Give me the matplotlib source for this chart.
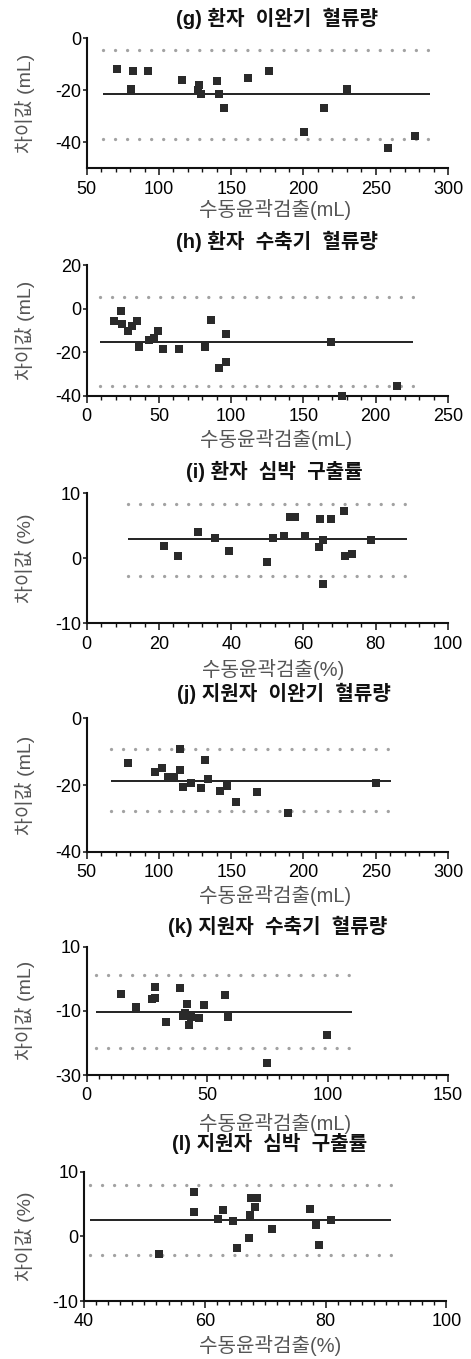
import matplotlib
matplotlib.use("Agg")
import matplotlib.pyplot as plt
from matplotlib.ticker import MultipleLocator

FONT = ["Liberation Sans", "Noto Sans CJK KR", "DejaVu Sans"]
plt.rcParams["font.family"] = FONT

W, H = 471, 1359

# ---- data ------------------------------------------------------------------
titles = ["(g) 환자  이완기  혈류량", "(h) 환자  수축기  혈류량", "(i) 환자  심박  구출률",
          "(j) 지원자  이완기  혈류량", "(k) 지원자  수축기  혈류량", "(l) 지원자  심박  구출률"]
xlabels = ["수동윤곽검출(mL)", "수동윤곽검출(mL)", "수동윤곽검출(%)",
           "수동윤곽검출(mL)", "수동윤곽검출(mL)", "수동윤곽검출(%)"]
ylabels = ["차이값 (mL)", "차이값 (mL)", "차이값 (%)",
           "차이값 (mL)", "차이값 (mL)", "차이값 (%)"]

g_x = [70.8, 80.4, 82.3, 92.2, 115.7, 127.9, 126.8, 129.3, 140.4, 141.6,
       145.0, 161.6, 176.4, 200.2, 214.5, 229.9, 258.3, 277.2]
g_y = [-11.9, -19.6, -12.6, -12.6, -16.1, -17.8, -19.7, -21.3, -16.6, -21.3,
       -26.7, -15.2, -12.6, -36.1, -26.7, -19.4, -42.2, -37.4]

h_x = [18.9, 23.5, 24.2, 28.4, 31.1, 34.6, 36.4, 43.3, 46.6, 49.6,
       53.0, 64.1, 81.7, 86.3, 91.6, 96.2, 96.4, 169.1, 176.5, 214.5]
h_y = [-5.5, -0.9, -7.1, -10.2, -7.8, -5.5, -17.8, -14.3, -13.5, -10.5,
       -18.6, -18.6, -17.8, -5.1, -27.4, -24.3, -11.5, -15.5, -40.0, -35.4]

i_x = [21.5, 25.4, 30.8, 35.6, 39.4, 49.8, 51.5, 54.7, 56.3, 57.7,
       60.3, 64.4, 64.6, 65.3, 65.3, 67.7, 71.2, 71.5, 73.5, 78.6]
i_y = [1.9, 0.3, 4.0, 3.2, 1.1, -0.6, 3.2, 3.4, 6.4, 6.4,
       3.4, 1.8, 6.05, 2.8, -3.9, 6.05, 7.3, 0.4, 0.7, 2.8]

j_x = [78.8, 97.5, 101.9, 106.5, 110.4, 114.6, 114.6, 116.9, 122.0, 129.1,
       131.7, 133.9, 142.2, 146.9, 153.1, 167.6, 189.5, 250.2]
j_y = [-13.5, -16.0, -15.0, -17.5, -17.5, -15.5, -9.3, -20.5, -19.3, -20.8,
       -12.5, -18.2, -21.8, -20.3, -25.0, -22.0, -28.3, -19.3]

k_x = [14.2, 20.5, 27.0, 28.5, 28.5, 32.8, 38.7, 39.8, 40.9, 41.5,
       42.3, 43.2, 46.6, 48.6, 57.4, 58.7, 75.0, 99.8]
k_y = [-4.9, -8.7, -6.3, -5.9, -2.5, -13.5, -3.0, -11.6, -10.8, -8.0,
       -14.5, -11.8, -12.3, -8.2, -5.1, -11.8, -26.4, -17.4]

l_x = [52.4, 58.2, 58.2, 62.2, 63.0, 64.6, 65.4, 67.4, 67.5, 67.6,
       68.4, 68.6, 71.2, 77.5, 78.4, 79.0, 80.9]
l_y = [-2.7, 6.9, 3.7, 2.7, 4.0, 2.3, -1.75, -0.2, 3.25, 6.0,
       4.5, 5.9, 1.2, 4.3, 1.7, -1.4, 2.5]

xs = [g_x, h_x, i_x, j_x, k_x, l_x]
ys = [g_y, h_y, i_y, j_y, k_y, l_y]

# bias line, limits of agreement and the x-span they are drawn over
bias = [-21.3, -15.4, 2.9, -18.8, -10.3, 2.5]
loa_upper = [-4.5, 5.4, 8.3, -9.3, 1.3, 8.0]
loa_lower = [-38.7, -35.4, -2.8, -27.7, -21.5, -2.9]
line_start = [61.0, 9.0, 11.5, 67.0, 4.0, 41.0]
line_end = [287.5, 225.5, 88.7, 260.5, 110.0, 90.8]

xlims = [(50, 300), (0, 250), (0, 100), (50, 300), (0, 150), (40, 100)]
ylims = [(-50, 0), (-40, 20), (-10, 10), (-40, 0), (-30, 10), (-10, 10)]
xmajor = [50, 50, 20, 50, 50, 20]
xminor = [10, 10, 4, 10, 5, 2]
yticks = [[0, -20, -40], [20, 0, -20, -40], [10, 0, -10],
          [0, -20, -40], [10, -10, -30], [10, 0, -10]]

# ---- layout in pixels (left, right, top, bottom) ---------------------------
boxes = [(86.7, 448, 38.3, 168.3), (86.7, 448, 265, 395.7), (86.7, 448, 493.3, 623.3),
         (86.7, 448, 718.3, 851.7), (86.7, 448, 946.7, 1075), (84, 446.3, 1171.7, 1301)]
title_pos = [(277, 18), (277, 241.7), (274, 471.7), (284, 693), (277.5, 926.7), (270, 1143)]
xlabel_pos = [(275, 210), (276, 440), (273, 669), (275, 895), (275, 1123), (270, 1346)]

fig = plt.figure(figsize=(W / 100, H / 100), dpi=100)

for k in range(6):
    l, r, t, b = boxes[k]
    ax = fig.add_axes([l / W, 1 - b / H, (r - l) / W, (b - t) / H])
    ax.set_xlim(*xlims[k])
    ax.set_ylim(*ylims[k])
    for s in ("top", "right"):
        ax.spines[s].set_visible(False)
    for s in ("left", "bottom"):
        ax.spines[s].set_linewidth(1.5)
        ax.spines[s].set_color("#111111")

    ax.hlines([loa_upper[k], loa_lower[k]], line_start[k], line_end[k],
              colors="#a2a2a2", linewidth=2.4, linestyles=[(0, (0.01, 3.6))],
              capstyle="round")
    ax.hlines(bias[k], line_start[k], line_end[k], colors="#111111", linewidth=1.3)
    ax.plot(xs[k], ys[k], "s", color="#2a2a2a", markersize=6.2,
            markeredgewidth=0, clip_on=False, zorder=3)

    ax.xaxis.set_major_locator(MultipleLocator(xmajor[k]))
    ax.xaxis.set_minor_locator(MultipleLocator(xminor[k]))
    ax.set_yticks(yticks[k])
    ax.tick_params(axis="x", which="major", length=5, width=1.1, color="#111111",
                   labelsize=13, pad=4)
    ax.tick_params(axis="x", which="minor", length=3, width=1.0, color="#111111")
    ax.tick_params(axis="y", which="major", length=3, width=1.1, color="#111111",
                   labelsize=13, pad=1)
    ax.yaxis.set_major_formatter(plt.FuncFormatter(lambda v, p: f"{v:g}"))

    fig.text(title_pos[k][0] / W, 1 - title_pos[k][1] / H, titles[k],
             ha="center", va="center", fontsize=14.5, fontweight="bold", color="#111111")
    fig.text(xlabel_pos[k][0] / W, 1 - xlabel_pos[k][1] / H, xlabels[k],
             ha="center", va="center", fontsize=14.5, color="#555555")
    fig.text(25 / W, 1 - (t + b) / 2 / H, ylabels[k], rotation=90,
             ha="center", va="center", fontsize=14, color="#555555")

fig.savefig("out.png", dpi=100)
